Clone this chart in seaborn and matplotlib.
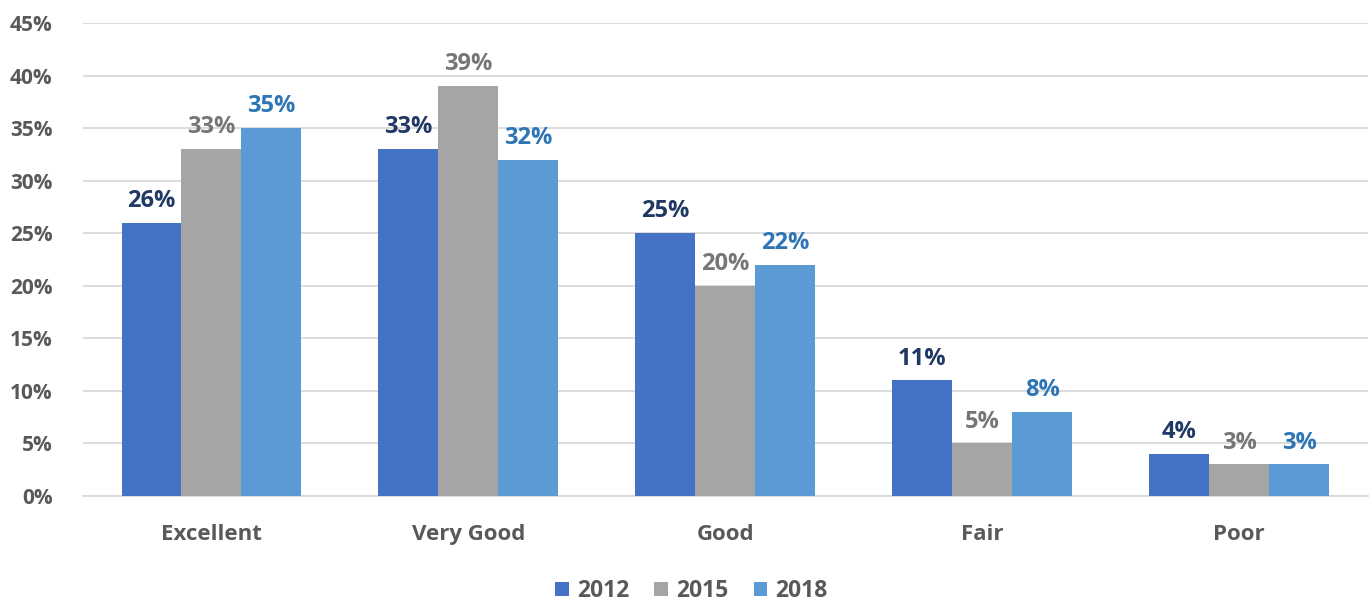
import pandas as pd
import matplotlib.pyplot as plt
import seaborn as sns
from matplotlib.ticker import PercentFormatter

# data
categories = ["Excellent", "Very Good", "Good", "Fair", "Poor"]
years = ["2012", "2015", "2018"]
v2012 = [26, 33, 25, 11, 4]
v2015 = [33, 39, 20, 5, 3]
v2018 = [35, 32, 22, 8, 3]

df = pd.DataFrame({
    "Rating": categories * 3,
    "Year": [y for y in years for _ in categories],
    "Value": v2012 + v2015 + v2018,
})

bar_colors = ["#4472C4", "#A5A5A5", "#5B9BD5"]
label_colors = ["#203864", "#767676", "#2E75B6"]

sns.set_style("white")
plt.rcParams["font.family"] = ["Open Sans", "DejaVu Sans"]

fig = plt.figure(figsize=(13.69, 6.03), dpi=100)
ax = fig.add_axes([0.0606, 0.1774, 0.9385, 0.7845])

sns.barplot(data=df, x="Rating", y="Value", hue="Year", palette=bar_colors,
            width=0.7, saturation=1, linewidth=0, ax=ax, zorder=3)

for cont, col in zip(ax.containers, label_colors):
    ax.bar_label(cont, labels=[f"{v:g}%" for v in cont.datavalues], padding=7,
                 color=col, fontsize=17, fontweight="bold")

ax.set_ylim(0, 45)
ax.set_yticks(range(0, 46, 5))
ax.yaxis.set_major_formatter(PercentFormatter(decimals=0))
ax.grid(axis="y", color="#D9D9D9", linewidth=1.3, zorder=0)
ax.set_xlim(-0.5, 4.5)
ax.set_xlabel("")
ax.set_ylabel("")
for s in ["top", "right", "left"]:
    ax.spines[s].set_visible(False)
ax.spines["bottom"].set_color("#D9D9D9")
ax.spines["bottom"].set_linewidth(1.3)
ax.tick_params(axis="y", length=0, pad=22, labelsize=15, labelcolor="#595959")
ax.tick_params(axis="x", length=0, pad=20, labelsize=16, labelcolor="#595959")
for t in ax.get_yticklabels() + ax.get_xticklabels():
    t.set_fontweight("bold")

ax.legend(loc="center", bbox_to_anchor=(0.505, 0.02), bbox_transform=fig.transFigure,
          ncol=3, frameon=False,
          handlelength=0.6, handleheight=0.6, handletextpad=0.35, columnspacing=1.1,
          prop={"size": 16.5, "weight": "bold"}, labelcolor="#595959")

fig.savefig("out.png", dpi=100)
